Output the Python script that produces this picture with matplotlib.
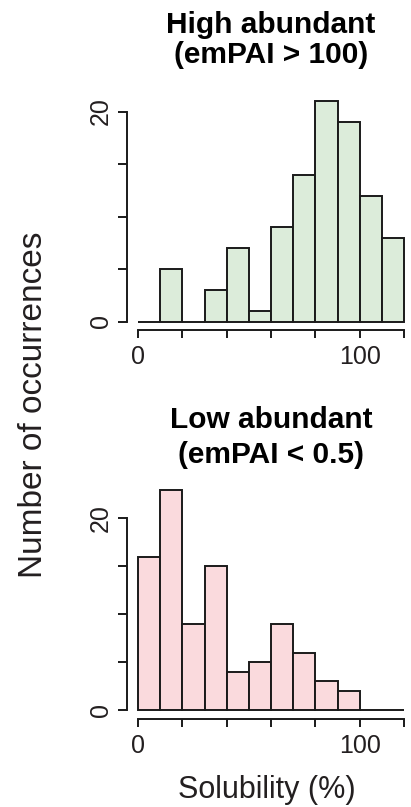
import matplotlib
matplotlib.use("Agg")
import matplotlib.pyplot as plt

plt.rcParams['font.family'] = ['Liberation Sans', 'DejaVu Sans']

# Data
bin_edges = [0, 10, 20, 30, 40, 50, 60, 70, 80, 90, 100, 110, 120]
high_counts = [0, 5, 0, 3, 7, 1, 9, 14, 21, 19, 12, 8]
low_counts = [16, 23, 9, 15, 4, 5, 9, 6, 3, 2, 0, 0]
high_title = ["High abundant", "(emPAI > 100)"]
low_title = ["Low abundant", "(emPAI < 0.5)"]
x_ticks = [0, 20, 40, 60, 80, 100, 120]
x_ticklabels = ["0", "", "", "", "", "100", ""]
y_ticks = [0, 5, 10, 15, 20]
y_ticklabels = ["0", "", "", "", "20"]
xlabel = "Solubility (%)"
ylabel = "Number of occurrences"

W, H = 411, 807
fig = plt.figure(figsize=(W / 100, H / 100), dpi=100)

edge = "#1a1a1a"
txt = "#231f20"
green = "#dcecda"
pink = "#fadadd"


def make_panel(x0, x1, y0_top, px_per_unit, ytop, counts, color, spine_out_y_px):
    # y0_top: pixel (from top) of y=0
    bottom = (H - y0_top) / H
    height = ytop * px_per_unit / H
    ax = fig.add_axes([x0 / W, bottom, (x1 - x0) / W, height])
    widths = [bin_edges[i + 1] - bin_edges[i] for i in range(len(counts))]
    ax.bar(bin_edges[:-1], counts, width=widths, align='edge', color=color,
           edgecolor=edge, linewidth=1.4, clip_on=False)
    ax.set_xlim(bin_edges[0], bin_edges[-1])
    ax.set_ylim(0, ytop)
    for s in ['top', 'right']:
        ax.spines[s].set_visible(False)
    ax.spines['left'].set_position(('outward', 11 * 0.72))
    ax.spines['bottom'].set_position(('outward', spine_out_y_px * 0.72))
    ax.spines['left'].set_bounds(y_ticks[0], y_ticks[-1])
    ax.spines['bottom'].set_bounds(x_ticks[0], x_ticks[-1])
    for s in ['left', 'bottom']:
        ax.spines[s].set_linewidth(1.4)
        ax.spines[s].set_color(edge)
    ax.set_xticks(x_ticks)
    ax.set_xticklabels(x_ticklabels)
    ax.set_yticks(y_ticks)
    ax.set_yticklabels(y_ticklabels, rotation=90, va='center')
    ax.tick_params(axis='x', length=8 * 0.72, width=1.4, color=edge, pad=5,
                   labelsize=18, labelcolor=txt)
    ax.tick_params(axis='y', length=9 * 0.72, width=1.4, color=edge, pad=3.5,
                   labelsize=18, labelcolor=txt)
    ax.patch.set_visible(False)
    return ax


ax1 = make_panel(138, 404, 321.5, 10.5, 22, high_counts, green, 8.5)
ax2 = make_panel(138, 404, 710, 9.58, 24, low_counts, pink, 9.3)

cx = 271 / W
fig.text(cx, (H - 33) / H, high_title[0], ha='center', va='baseline',
         fontsize=21.5, fontweight='bold', color='black')
fig.text(cx, (H - 63) / H, high_title[1], ha='center', va='baseline',
         fontsize=21.5, fontweight='bold', color='black')
fig.text(cx, (H - 428) / H, low_title[0], ha='center', va='baseline',
         fontsize=21.5, fontweight='bold', color='black')
fig.text(cx, (H - 463) / H, low_title[1], ha='center', va='baseline',
         fontsize=21.5, fontweight='bold', color='black')

fig.text(267 / W, (H - 798) / H, xlabel, ha='center', va='baseline',
         fontsize=22, color=txt)
fig.text(42 / W, (H - 405) / H, ylabel, ha='center', va='baseline',
         rotation=90, rotation_mode='anchor', fontsize=24, color=txt)

fig.savefig("out.png", dpi=100)
